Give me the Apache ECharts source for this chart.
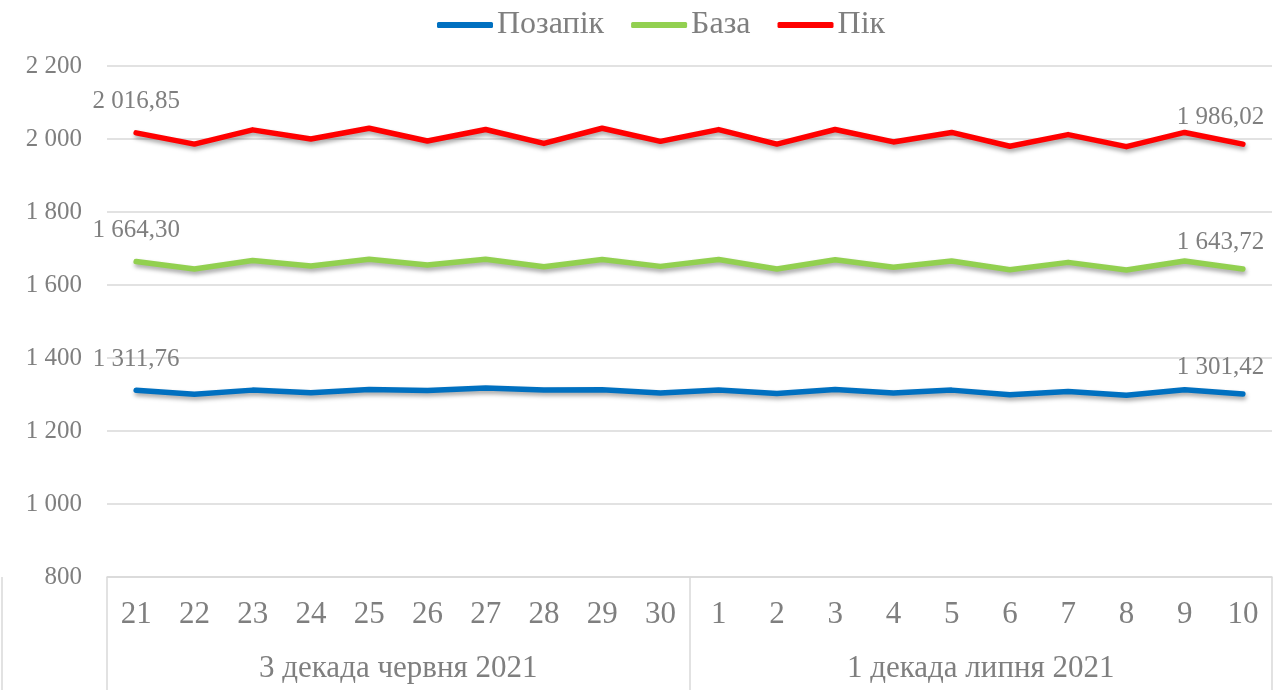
<!DOCTYPE html>
<html>
<head>
<meta charset="utf-8">
<script src="https://cdn.jsdelivr.net/npm/echarts@6/dist/echarts.min.js"></script>
<style>
  html, body { margin: 0; padding: 0; background: #ffffff; }
  #chart { width: 1278px; height: 690px; }
</style>
</head>
<body>
<div id="chart"></div>
<script>
// ---- data ----
const days = ['21','22','23','24','25','26','27','28','29','30','1','2','3','4','5','6','7','8','9','10'];
const groups = ['3 декада червня 2021', '1 декада липня 2021'];
const seriesNames = ['Позапік', 'База', 'Пік'];
const offPeak = [1311.76,1300.6,1312,1304.6,1314,1311,1318,1312,1313,1304,1312,1303,1314,1304,1312,1299,1308,1298,1313,1301.42];
const base    = [1664.30,1644,1667,1652,1670.6,1655,1670.6,1650,1669.7,1651,1670,1644,1669,1648.6,1666,1642,1662,1641,1666,1643.72];
const peak    = [2016.85,1986,2025,2000,2029.5,1994.5,2026,1988,2029.5,1993.5,2025.8,1986,2026,1992,2018,1980,2012,1979,2018,1986.02];
const yTicks  = { min: 800, max: 2200, interval: 200 };

const FONT = '"Liberation Serif", "Times New Roman", serif';
const GRAY = '#7f7f7f';
const GRID = '#d9d9d9';
const colors = ['#0070c0', '#92d050', '#ff0000'];

function fmtThousands(v, dec) {
  const s = Number(v).toFixed(dec);
  const parts = s.split('.');
  const intPart = parts[0].replace(/\B(?=(\d{3})+(?!\d))/g, ' ');
  return parts.length > 1 ? intPart + ',' + parts[1] : intPart;
}

function buildData(arr) {
  return arr.map((v, i) => {
    if (i === 0) {
      return { value: v, label: { show: true, position: 'top', distance: 18 } };
    }
    if (i === arr.length - 1) {
      return { value: v, label: { show: true, position: [-22, -14], align: 'center', verticalAlign: 'bottom' } };
    }
    return v;
  });
}

const allSeries = [offPeak, base, peak].map((arr, k) => ({
  name: seriesNames[k],
  type: 'line',
  xAxisIndex: 0,
  symbol: 'circle',
  symbolSize: 1,
  showSymbol: true,
  showAllSymbol: true,
  smooth: false,
  data: buildData(arr),
  lineStyle: {
    width: 5.5,
    color: colors[k],
    cap: 'round',
    join: 'round',
    shadowColor: 'rgba(0,0,0,0.35)',
    shadowBlur: 4,
    shadowOffsetX: 1,
    shadowOffsetY: 3
  },
  itemStyle: { color: colors[k] },
  label: {
    show: false,
    color: GRAY,
    fontFamily: FONT,
    fontSize: 25,
    formatter: p => fmtThousands(p.value, 2)
  },
  labelLayout: { hideOverlap: false },
  emphasis: { disabled: true }
}));

const chart = echarts.init(document.getElementById('chart'), null, { renderer: 'canvas' });
chart.setOption({
  animation: false,
  backgroundColor: '#ffffff',
  legend: {
    data: seriesNames,
    top: 4,
    left: 432,
    icon: 'roundRect',
    itemWidth: 56,
    itemHeight: 6,
    itemGap: 27,
    textStyle: { color: GRAY, fontFamily: FONT, fontSize: 32, padding: [0, 0, 0, -1] }
  },
  grid: { left: 107, right: 6, top: 66, bottom: 113, containLabel: false },
  xAxis: [
    {
      type: 'category',
      data: days,
      position: 'bottom',
      boundaryGap: true,
      axisLine: { show: true, lineStyle: { color: GRID, width: 1.5 } },
      axisTick: { show: false },
      axisLabel: { color: GRAY, fontFamily: FONT, fontSize: 31, margin: 22, interval: 0 },
      splitLine: { show: false }
    },
    {
      type: 'category',
      data: groups,
      position: 'bottom',
      boundaryGap: true,
      axisLine: { show: false },
      axisTick: { show: true, length: 113, lineStyle: { color: GRID, width: 1.5 } },
      axisLabel: { color: GRAY, fontFamily: FONT, fontSize: 31, margin: 76, interval: 0 },
      splitLine: { show: false }
    }
  ],
  yAxis: {
    type: 'value',
    min: yTicks.min,
    max: yTicks.max,
    interval: yTicks.interval,
    axisLine: { show: false },
    axisTick: { show: false },
    splitLine: { show: true, lineStyle: { color: GRID, width: 1.5 } },
    axisLabel: {
      color: GRAY, fontFamily: FONT, fontSize: 25, margin: 25,
      formatter: v => fmtThousands(v, 0)
    }
  },
  graphic: [
    { type: 'line', shape: { x1: 2, y1: 577, x2: 2, y2: 690 }, style: { stroke: GRID, lineWidth: 1.5 } }
  ],
  series: allSeries
});
</script>
</body>
</html>
